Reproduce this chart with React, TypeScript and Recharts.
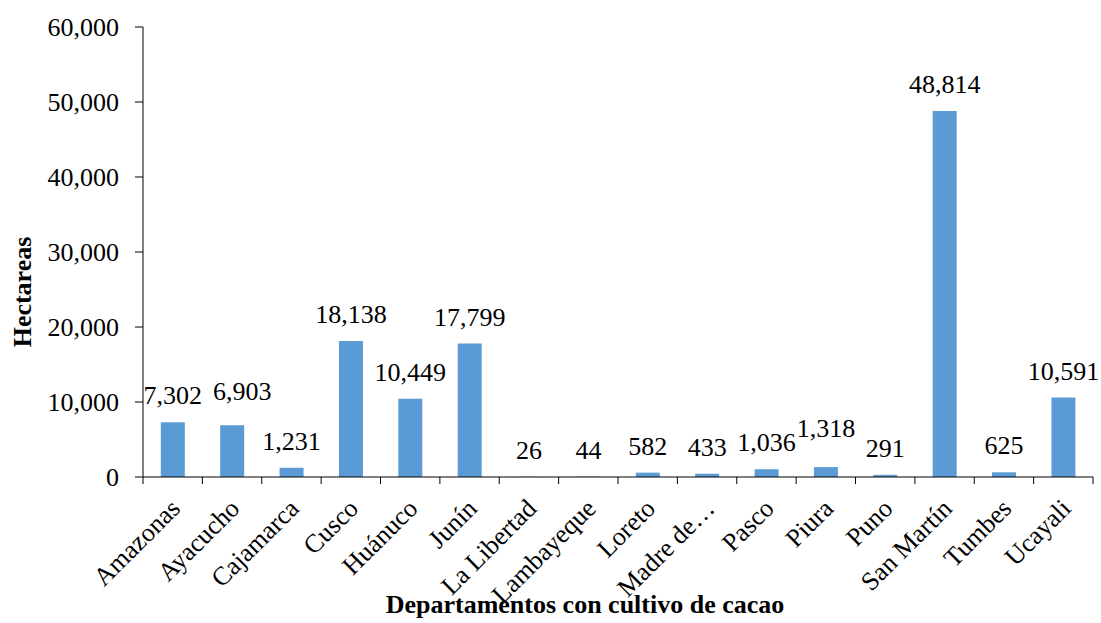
import React from 'react';
import { BarChart, Bar, XAxis, YAxis, LabelList, Label } from 'recharts';

// Superficie de cacao por departamento (hectáreas)
const departamentos = [
  'Amazonas', 'Ayacucho', 'Cajamarca', 'Cusco', 'Huánuco', 'Junín', 'La Libertad', 'Lambayeque',
  'Loreto', 'Madre de…', 'Pasco', 'Piura', 'Puno', 'San Martín', 'Tumbes', 'Ucayali',
];
const hectareas = [7302, 6903, 1231, 18138, 10449, 17799, 26, 44, 582, 433, 1036, 1318, 291, 48814, 625, 10591];
const yTicks = [0, 10000, 20000, 30000, 40000, 50000, 60000];

const data = departamentos.map((departamento, i) => ({ departamento, hectareas: hectareas[i] }));

const W = 1101;
const H = 623;
const MARGIN = { top: 27, right: 8, left: 0, bottom: 0 };
const Y_AXIS_W = 143;
const X_AXIS_H = 146;
const PLOT_W = W - MARGIN.left - MARGIN.right - Y_AXIS_W;
const AXIS_Y = H - MARGIN.bottom - X_AXIS_H;
const BAND = PLOT_W / departamentos.length;

const FONT = "'Liberation Serif', 'Times New Roman', Times, serif";
const AXIS_COLOR = '#000000';
const BAR_COLOR = '#5B9BD5';

const fmt = (v: number) => v.toLocaleString('en-US');

// Small manual shifts for labels that would otherwise crowd neighbours
const labelShift: Record<number, { dx: number; dy: number }> = {
  1: { dx: 10, dy: -7 },
  11: { dx: 0, dy: -12 },
};

const CategoryTick = (props: any) => {
  const { x, payload } = props;
  const index = props.index ?? payload.index ?? 0;
  const half = BAND / 2;
  const ax = x + 9;
  const ay = AXIS_Y + 33;
  return (
    <g>
      <line x1={x - half} y1={AXIS_Y} x2={x - half} y2={AXIS_Y + 7} stroke={AXIS_COLOR} strokeWidth={1} />
      {index === departamentos.length - 1 && (
        <line x1={x + half} y1={AXIS_Y} x2={x + half} y2={AXIS_Y + 7} stroke={AXIS_COLOR} strokeWidth={1} />
      )}
      <text
        x={ax}
        y={ay}
        textAnchor="end"
        transform={`rotate(-45 ${ax} ${ay})`}
        fontFamily={FONT}
        fontSize={26}
        fill="#000"
      >
        {payload.value}
      </text>
    </g>
  );
};

const ValueLabel = (props: any) => {
  const { x, y, width, value, index } = props;
  const s = labelShift[index] ?? { dx: 0, dy: 0 };
  return (
    <text
      x={x + width / 2 + s.dx}
      y={y - 18 + s.dy}
      textAnchor="middle"
      fontFamily={FONT}
      fontSize={26}
      fill="#000"
    >
      {fmt(value)}
    </text>
  );
};

export default function App() {
  return (
    <div style={{ position: 'absolute', left: 0, top: 0, width: W, height: H, background: '#fff', fontFamily: FONT }}>
      <BarChart width={W} height={H} data={data} margin={MARGIN} barCategoryGap="30%" style={{ fontFamily: FONT }}>
        <XAxis
          dataKey="departamento"
          height={X_AXIS_H}
          interval={0}
          tickLine={false}
          axisLine={{ stroke: AXIS_COLOR, strokeWidth: 1 }}
          tick={<CategoryTick />}
        >
          <Label
            content={() => (
              <text x={585} y={613} textAnchor="middle" fontFamily={FONT} fontSize={26} fontWeight="bold" fill="#000">
                Departamentos con cultivo de cacao
              </text>
            )}
          />
        </XAxis>
        <YAxis
          width={Y_AXIS_W}
          domain={[0, 60000]}
          ticks={yTicks}
          tickFormatter={fmt}
          tickSize={8}
          tickMargin={16}
          axisLine={{ stroke: AXIS_COLOR, strokeWidth: 1 }}
          tickLine={{ stroke: AXIS_COLOR, strokeWidth: 1 }}
          tick={{ fontFamily: FONT, fontSize: 26, fill: '#000' }}
        >
          <Label
            content={() => (
              <text
                x={22}
                y={292}
                textAnchor="middle"
                dominantBaseline="central"
                transform="rotate(-90 22 292)"
                fontFamily={FONT}
                fontSize={26}
                fontWeight="bold"
                fill="#000"
              >
                Hectareas
              </text>
            )}
          />
        </YAxis>
        <Bar dataKey="hectareas" fill={BAR_COLOR} isAnimationActive={false}>
          <LabelList dataKey="hectareas" content={<ValueLabel />} />
        </Bar>
      </BarChart>
    </div>
  );
}
